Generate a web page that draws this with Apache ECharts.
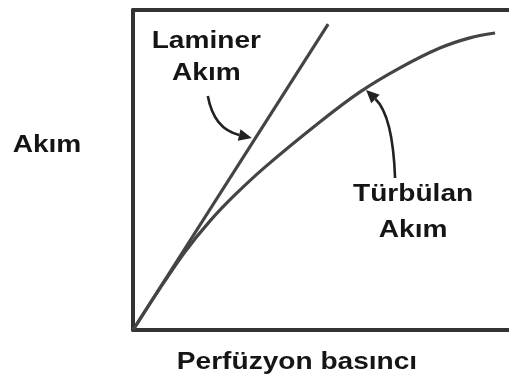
<!DOCTYPE html>
<html>
<head>
<meta charset="utf-8">
<script src="https://cdn.jsdelivr.net/npm/echarts@6/dist/echarts.min.js"></script>
<style>
  html, body { margin: 0; padding: 0; background: #fff; }
  #chart { width: 509px; height: 381px; }
</style>
</head>
<body>
<div id="chart"></div>
<script>
// eğriler (x: perfüzyon basıncı, y: akım, 0-100 ölçek)
const laminerData = [[0, 0], [51.9, 95.6]]
const turbulanData = [
  [0, 0], [7.2, 13.1], [13.8, 24.4], [20.5, 34.1], [27.1, 42.2], [35.1, 50.9],
  [49.7, 65.0], [60.4, 74.4], [71.0, 81.9], [81.6, 88.1], [89.6, 91.3], [96.3, 92.8]
]

// etiketler
const xName = 'Perfüzyon basıncı'
const yName = 'Akım'
const laminerLabel = ['Laminer', 'Akım']
const turbulanLabel = ['Türbülan', 'Akım']

// ok işaretleri: [başlangıç, kontrol, uç] veri koordinatlarında
const laminerArrow = [[19.9, 73.1], [21.5, 62.8], [31.6, 60.0]]
const turbulanArrow = [[69.7, 47.5], [69.1, 66.9], [62.0, 75.0]]

const LINE = '#444'
const AXIS = '#333'
const FONT = '"Liberation Sans", Arial, sans-serif'

const chart = echarts.init(document.getElementById('chart'), null, { renderer: 'canvas' })

const hiddenAxis = {
  type: 'value', min: 0, max: 100,
  axisTick: { show: false }, axisLabel: { show: false }, splitLine: { show: false }
}

chart.setOption({
  animation: false,
  grid: { left: 133, right: 0, top: 10, bottom: 51 },
  xAxis: [
    Object.assign({}, hiddenAxis, { position: 'bottom', axisLine: { show: true, lineStyle: { color: AXIS, width: 4 } } }),
    Object.assign({}, hiddenAxis, { position: 'top', axisLine: { show: true, lineStyle: { color: AXIS, width: 4 } } })
  ],
  yAxis: Object.assign({}, hiddenAxis, { axisLine: { show: true, lineStyle: { color: AXIS, width: 4 } } }),
  series: [
    {
      name: 'Laminer', type: 'line', data: laminerData, showSymbol: false,
      lineStyle: { color: LINE, width: 3.2 }
    },
    {
      name: 'Türbülan', type: 'line', data: turbulanData, showSymbol: false,
      smooth: 0.3,
      lineStyle: { color: LINE, width: 3.2 }
    }
  ]
})

function toPx(p) { return chart.convertToPixel({ gridIndex: 0 }, p) }

function arrow(pts) {
  const [s, c, e] = pts.map(toPx)
  const ang = Math.atan2(e[1] - c[1], e[0] - c[0])
  const len = 13, half = 6
  const bx = e[0] - len * Math.cos(ang), by = e[1] - len * Math.sin(ang)
  const nx = -Math.sin(ang), ny = Math.cos(ang)
  return [
    {
      type: 'bezierCurve',
      shape: { x1: s[0], y1: s[1], cpx1: c[0], cpy1: c[1], x2: bx, y2: by },
      style: { stroke: '#222', lineWidth: 2.6, fill: null }
    },
    {
      type: 'polygon',
      shape: { points: [e, [bx + nx * half, by + ny * half], [bx - nx * half, by - ny * half]] },
      style: { fill: '#222' }
    }
  ]
}

function label(text, x, y) {
  return {
    type: 'text', x: x, y: y, scaleX: 1.17,
    style: {
      text: text, fill: '#151515', font: 'bold 24px ' + FONT,
      textAlign: 'center', textVerticalAlign: 'middle'
    }
  }
}

const lam = toPx([19.5, 90])
const tur = toPx([74.5, 38])

chart.setOption({
  graphic: [
    label(laminerLabel[0], lam[0], 41),
    label(laminerLabel[1], lam[0], 73),
    label(turbulanLabel[0], tur[0], 194),
    label(turbulanLabel[1], tur[0], 230),
    label(yName, 47, 145),
    label(xName, 297, 362)
  ].concat(arrow(laminerArrow), arrow(turbulanArrow))
})
</script>
</body>
</html>
